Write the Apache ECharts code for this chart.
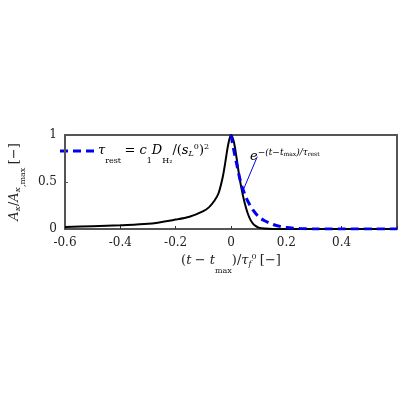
<!DOCTYPE html><html><head><meta charset="utf-8"><script src="https://cdn.jsdelivr.net/npm/echarts@6/dist/echarts.min.js"></script></head><body style="margin:0"><div id="c" style="width:400px;height:400px"></div><script>
const xTicks=[-0.6,-0.4,-0.2,0,0.2,0.4];
const blackX=[-0.6,-0.5,-0.4,-0.3,-0.2,-0.15,-0.1,-0.08,-0.06,-0.045,-0.03,-0.02,-0.01,0,0.01,0.02,0.03,0.04,0.05,0.06,0.07,0.08,0.09,0.1,0.12,0.15,0.3,0.6];
const blackY=[0.02,0.03,0.04,0.055,0.1,0.13,0.19,0.23,0.3,0.38,0.55,0.72,0.9,1,0.93,0.76,0.56,0.4,0.27,0.17,0.1,0.055,0.03,0.015,0.005,0,0,0];
const blueX=[0,0.01,0.02,0.03,0.04,0.05,0.06,0.08,0.1,0.12,0.15,0.18,0.2,0.25,0.3,0.6];
const blueY=[1,0.84,0.7,0.56,0.45,0.37,0.3,0.2,0.13,0.09,0.05,0.025,0.015,0.005,0,0];
const F='DejaVu Serif';
const R={i:{fontFamily:F,fontStyle:'italic',fontSize:13,color:'#222'},n:{fontFamily:F,fontSize:13,color:'#222'},s:{fontFamily:F,fontSize:8,color:'#222',verticalAlign:'bottom',padding:[0,0,-6,0]},p:{fontFamily:F,fontSize:8,color:'#222',padding:[0,0,8,0]},si:{fontFamily:F,fontStyle:'italic',fontSize:8,color:'#222',padding:[0,0,-6,0]}};
const Rb={};for(const k in R)Rb[k]=Object.assign({},R[k],{color:'#0000ee'});
const c=echarts.init(document.getElementById('c'));
c.setOption({animation:false,
grid:{left:40,right:1,top:135,bottom:171},
xAxis:[{type:'value',min:-0.6,max:0.6,interval:0.2,axisLine:{onZero:false,lineStyle:{color:'#555',width:2}},axisTick:{inside:true,length:3,lineStyle:{color:'#333'}},splitLine:{show:false},
axisLabel:{fontFamily:F,fontSize:12,color:'#222',formatter:v=>xTicks.some(t=>Math.abs(t-v)<1e-9)?String(Math.round(v*10)/10):''},
name:'{n|(}{i|t} {n|− }{i|t}{s|max}{n|)/}{i|τ}{si|f}{p|0} {n|[−]}',nameLocation:'middle',nameGap:24,nameTextStyle:{rich:R}},
{type:'value',position:'top',min:-0.6,max:0.6,axisLine:{show:true,onZero:false,lineStyle:{color:'#555',width:2}},axisTick:{show:false},axisLabel:{show:false},splitLine:{show:false}}],
yAxis:[{type:'value',min:0,max:1,interval:0.5,axisLine:{show:true,onZero:false,lineStyle:{color:'#555',width:2}},axisTick:{inside:true,length:3},splitLine:{show:false},
axisLabel:{fontFamily:F,fontSize:12,color:'#222'},
name:'{i|A}{si|κ}{n|/}{i|A}{si|κ}{s|,max} {n|[−]}',nameLocation:'middle',nameGap:24,nameTextStyle:{rich:R}},
{type:'value',position:'right',min:0,max:1,axisLine:{show:true,onZero:false,lineStyle:{color:'#555',width:2}},axisTick:{show:false},axisLabel:{show:false},splitLine:{show:false}}],
series:[{type:'line',data:blackX.map((x,i)=>[x,blackY[i]]),showSymbol:false,smooth:0.3,lineStyle:{color:'#000',width:2}},
{type:'line',data:blueX.map((x,i)=>[x,blueY[i]]),showSymbol:false,smooth:0.3,lineStyle:{color:'#0000ee',width:3,type:[8,5]},z:3,
markLine:{symbol:'none',silent:true,label:{show:false},lineStyle:{color:'#0000ee',width:1,type:'solid'},data:[[{coord:[0.045,0.42]},{coord:[0.095,0.77]}]]}}],
graphic:[{type:'line',shape:{x1:60,y1:151,x2:95,y2:151},style:{stroke:'#0000ee',lineWidth:3,lineDash:[8,5]}},
{type:'text',left:98,top:143,style:{text:'{i|τ}{s|rest} {n|= }{i|c}{s|1}{i|D}{s|H₂}{n|/(}{i|s}{si|L}{p|0}{n|)}{p|2}',rich:R}},
{type:'text',left:250,top:148,style:{text:'{i|e}{p|−(t−t}{sp|max}{p|)/τ}{sp|rest}',rich:Object.assign({},Rb,{p:Object.assign({},Rb.p,{fontStyle:'italic',fontSize:9}),sp:{fontFamily:F,fontSize:6,color:'#0000ee',padding:[0,0,4,0]}})}}]
});
</script></body></html>
